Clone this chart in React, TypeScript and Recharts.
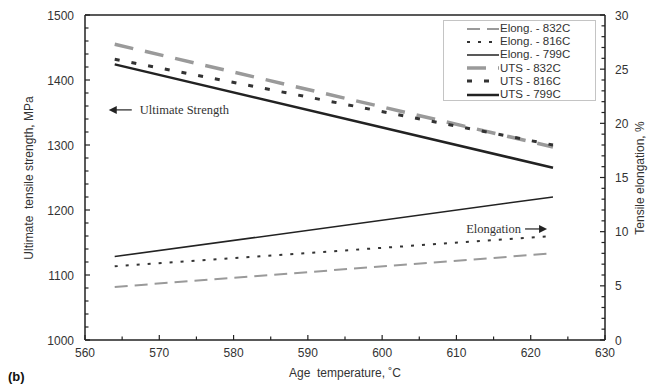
import { LineChart, Line, XAxis, YAxis, ReferenceLine, ReferenceDot, Label } from 'recharts';

// age temperatures (C) at which the fitted lines start and end
const temps = [564, 623];

// ultimate tensile strength, MPa
const utsAt832 = [1455, 1297];
const utsAt816 = [1432, 1300];
const utsAt799 = [1424, 1265];

// tensile elongation, %
const elongAt832 = [4.9, 8.0];
const elongAt816 = [6.8, 9.6];
const elongAt799 = [7.7, 13.2];

const xTickLabels = [560, 570, 580, 590, 600, 610, 620, 630];
const leftTickLabels = [1000, 1100, 1200, 1300, 1400, 1500];
const rightTickLabels = [0, 5, 10, 15, 20, 25, 30];

// minor ticks sit between the labelled ones
const xTicks = Array.from({ length: 15 }, (_, i) => 560 + i * 5);
const leftTicks = Array.from({ length: 26 }, (_, i) => 1000 + i * 20);
const rightTicks = Array.from({ length: 31 }, (_, i) => i);

const chartData = temps.map((t, i) => ({
  temp: t,
  elong832: elongAt832[i],
  elong816: elongAt816[i],
  elong799: elongAt799[i],
  uts832: utsAt832[i],
  uts816: utsAt816[i],
  uts799: utsAt799[i],
}));

const FONT = '"Liberation Sans", Arial, sans-serif';
const SERIF = '"Liberation Serif", "Times New Roman", serif';
const INK = '#222';
const TEXT = '#333';

const series = [
  { key: 'elong832', name: 'Elong. - 832C', axis: 'right', color: '#9a9a9a', width: 2, dash: '13 7' },
  { key: 'elong816', name: 'Elong. - 816C', axis: 'right', color: '#333', width: 2, dash: '3 8' },
  { key: 'elong799', name: 'Elong. - 799C', axis: 'right', color: '#222', width: 1.5, dash: undefined },
  { key: 'uts832', name: 'UTS - 832C', axis: 'left', color: '#9a9a9a', width: 3.5, dash: '19 12' },
  { key: 'uts816', name: 'UTS - 816C', axis: 'left', color: '#333', width: 3, dash: '5 12' },
  { key: 'uts799', name: 'UTS - 799C', axis: 'left', color: '#222', width: 2.5, dash: undefined },
];

const LeftTick = (props: any) => {
  const { x, y, payload } = props;
  const major = leftTickLabels.includes(payload.value);
  return (
    <g>
      <line x1={x} x2={x + (major ? 5 : 3.5)} y1={y} y2={y} stroke={INK} strokeWidth={1.2} />
      {major && (
        <text x={x - 11} y={y + 4.5} textAnchor="end" fontSize={12} fill={TEXT} fontFamily={FONT}>
          {payload.value}
        </text>
      )}
    </g>
  );
};

const RightTick = (props: any) => {
  const { x, y, payload } = props;
  const major = rightTickLabels.includes(payload.value);
  return (
    <g>
      <line x1={x} x2={x - (major ? 5 : 3.5)} y1={y} y2={y} stroke={INK} strokeWidth={1.2} />
      {major && (
        <text x={x + 10} y={y + 4.5} textAnchor="start" fontSize={12} fill={TEXT} fontFamily={FONT}>
          {payload.value}
        </text>
      )}
    </g>
  );
};

const BottomTick = (props: any) => {
  const { x, y, payload } = props;
  const major = xTickLabels.includes(payload.value);
  return (
    <g>
      <line x1={x} x2={x} y1={y} y2={y - (major ? 5 : 3.5)} stroke={INK} strokeWidth={1.2} />
      {major && (
        <text x={x} y={y + 17} textAnchor="middle" fontSize={12} fill={TEXT} fontFamily={FONT}>
          {payload.value}
        </text>
      )}
    </g>
  );
};

function LegendBox() {
  return (
    <div
      style={{
        position: 'absolute',
        left: 443,
        top: 20,
        width: 153,
        height: 81,
        border: '1px solid #c4c4c4',
        boxSizing: 'border-box',
        paddingTop: 1,
        background: 'white',
        fontFamily: FONT,
        fontSize: 11.5,
        color: TEXT,
      }}
    >
      {series.map((s) => (
        <div key={s.key} style={{ display: 'flex', alignItems: 'center', height: 13.2 }}>
          <svg width={56} height={8} style={{ display: 'block' }}>
            <line
              x1={23}
              x2={55}
              y1={4}
              y2={4}
              stroke={s.color}
              strokeWidth={s.width}
              strokeDasharray={s.dash}
            />
          </svg>
          <span style={{ whiteSpace: 'pre', lineHeight: '13px' }}>{s.name}</span>
        </div>
      ))}
    </div>
  );
}

export default function App() {
  return (
    <div style={{ position: 'absolute', left: 0, top: 0, width: 650, height: 388, background: 'white' }}>
      <LineChart width={650} height={388} data={chartData} margin={{ top: 15, right: 0, bottom: 0, left: 0 }}>
        <XAxis
          dataKey="temp"
          type="number"
          domain={[560, 630]}
          ticks={xTicks}
          interval={0}
          height={48}
          tickSize={0}
          tickMargin={0}
          tickLine={false}
          tick={BottomTick}
          axisLine={{ stroke: INK, strokeWidth: 1.5 }}
        >
          <Label
            content={() => (
              <g>
                <text x={345} y={377} textAnchor="middle" fontSize={12} fill={TEXT} fontFamily={FONT} style={{ whiteSpace: 'pre' }}>
                  {'Age  temperature, ˚C'}
                </text>
                <text x={8} y={381} fontSize={13} fontWeight="bold" fill="#111" fontFamily={FONT}>
                  (b)
                </text>
              </g>
            )}
          />
        </XAxis>
        <YAxis
          yAxisId="left"
          orientation="left"
          width={85}
          domain={[1000, 1500]}
          ticks={leftTicks}
          interval={0}
          tickSize={0}
          tickMargin={0}
          tickLine={false}
          tick={LeftTick}
          axisLine={{ stroke: INK, strokeWidth: 1.5 }}
        >
          <Label
            content={() => (
              <text
                x={30}
                y={178}
                transform="rotate(-90 30 178)"
                textAnchor="middle"
                dominantBaseline="middle"
                fontSize={12}
                fill={TEXT}
                fontFamily={FONT}
                style={{ whiteSpace: 'pre' }}
              >
                {'Ultimate  tensile strength, MPa'}
              </text>
            )}
          />
        </YAxis>
        <YAxis
          yAxisId="right"
          orientation="right"
          width={45}
          domain={[0, 30]}
          ticks={rightTicks}
          interval={0}
          tickSize={0}
          tickMargin={0}
          tickLine={false}
          tick={RightTick}
          axisLine={{ stroke: INK, strokeWidth: 1.5 }}
        >
          <Label
            content={() => (
              <text
                x={641}
                y={178}
                transform="rotate(-90 641 178)"
                textAnchor="middle"
                dominantBaseline="middle"
                fontSize={12}
                fill={TEXT}
                fontFamily={FONT}
              >
                Tensile elongation, %
              </text>
            )}
          />
        </YAxis>

        <ReferenceLine yAxisId="left" y={1500} stroke={INK} strokeWidth={1.5} />

        {series.map((s) => (
          <Line
            key={s.key}
            yAxisId={s.axis}
            dataKey={s.key}
            name={s.name}
            type="linear"
            stroke={s.color}
            strokeWidth={s.width}
            strokeDasharray={s.dash}
            dot={false}
            activeDot={false}
            isAnimationActive={false}
          />
        ))}

        <ReferenceDot
          yAxisId="left"
          x={563.2}
          y={1354}
          r={0}
          shape={(p: any) => (
            <g>
              <line x1={p.cx + 6} y1={p.cy} x2={p.cx + 23} y2={p.cy} stroke={INK} strokeWidth={1.2} />
              <path d={`M${p.cx},${p.cy} l8,-4 l0,8 z`} fill={INK} />
              <text x={p.cx + 31} y={p.cy + 4} fontFamily={SERIF} fontSize={12.5} fill={TEXT}>
                Ultimate Strength
              </text>
            </g>
          )}
        />
        <ReferenceDot
          yAxisId="right"
          x={622.2}
          y={10.25}
          r={0}
          shape={(p: any) => (
            <g>
              <line x1={p.cx - 22} y1={p.cy} x2={p.cx - 6} y2={p.cy} stroke={INK} strokeWidth={1.2} />
              <path d={`M${p.cx},${p.cy} l-8,-4 l0,8 z`} fill={INK} />
              <text x={p.cx - 26} y={p.cy + 4} textAnchor="end" fontFamily={SERIF} fontSize={12.5} fill={TEXT}>
                Elongation
              </text>
            </g>
          )}
        />
      </LineChart>
      <LegendBox />
    </div>
  );
}
